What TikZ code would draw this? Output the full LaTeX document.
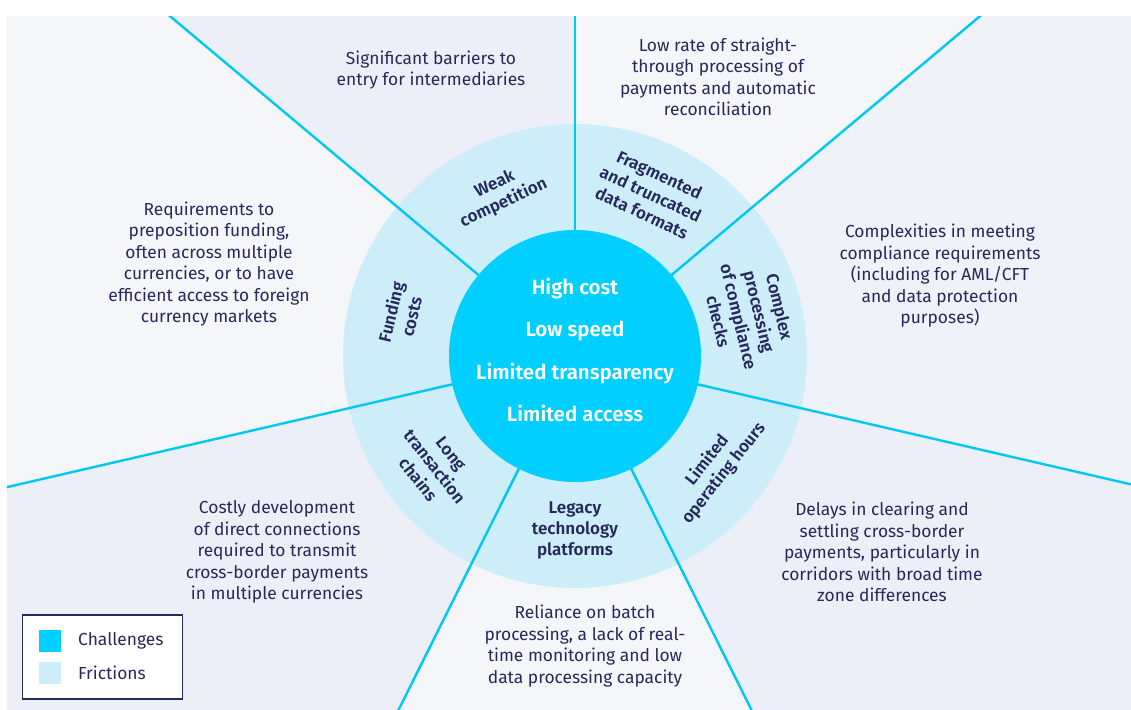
\documentclass[tikz,border=0pt]{standalone}
\usepackage{fontspec}
\setmainfont{Fira Sans}[BoldFont={Fira Sans SemiBold}]
\definecolor{navy}{HTML}{27295A}
\definecolor{corecol}{HTML}{00CFFF}
\definecolor{spokecol}{HTML}{00C8F2}
\definecolor{ringcol}{HTML}{CDEDF9}
\definecolor{secdark}{HTML}{ECEFF7}
\definecolor{seclight}{HTML}{F5F6FA}
\definecolor{secmid}{HTML}{EFF2F8}
\pgfdeclarelayer{bg}
\pgfsetlayers{bg,main}
\tikzset{
  desc/.style={text=navy, align=center, inner sep=0pt, font=\fontsize{17.4}{21.5}\selectfont},
  ringlbl/.style={text=navy, align=center, inner sep=0pt, font=\bfseries\fontsize{17}{21}\selectfont},
  corelbl/.style={text=white, align=center, inner sep=0pt, font=\bfseries\fontsize{20.5}{42.5}\selectfont},
  spoke/.style={draw=spokecol, line width=2.4pt},
  legsq/.style={minimum size=22pt, inner sep=0pt, anchor=north west},
  legtxt/.style={text=navy, anchor=west, inner sep=0pt, font=\fontsize{17.4}{20}\selectfont},
}
\begin{document}
\begin{tikzpicture}[x=1pt,y=1pt]
\useasboundingbox (-575,-353) rectangle (556,356);
% core circle and ring as nodes
\node[circle, fill=corecol, minimum size=252pt, inner sep=0pt] (core) at (0,0) {};
\begin{pgfonlayer}{bg}
  \fill[white] (-575,-353) rectangle (556,356);
  \begin{scope}
    \clip (-568,-353) rectangle (556,339);
    \fill[secdark]  (0,0) -- (90:1200)  arc[start angle=90,  end angle=140, radius=1200] -- cycle;
    \fill[seclight] (0,0) -- (140:1200) arc[start angle=140, end angle=193, radius=1200] -- cycle;
    \fill[secdark]  (0,0) -- (193:1200) arc[start angle=193, end angle=243.5, radius=1200] -- cycle;
    \fill[seclight] (0,0) -- (243.5:1200) arc[start angle=243.5, end angle=296.5, radius=1200] -- cycle;
    \fill[secdark]  (0,0) -- (296.5:1200) arc[start angle=296.5, end angle=347, radius=1200] -- cycle;
    \fill[secmid]   (0,0) -- (347:1200) arc[start angle=347, end angle=400, radius=1200] -- cycle;
    \fill[seclight] (0,0) -- (40:1200)  arc[start angle=40,  end angle=90,  radius=1200] -- cycle;
    \node[circle, fill=ringcol, minimum size=464pt, inner sep=0pt] (ring) at (0,0) {};
    \foreach \a [count=\i] in {90,40,-13,-63.5,-116.5,-167,140}{
      \coordinate (far\i) at (\a:1200);
      \coordinate (near\i) at (\a:125);
      \draw[spoke] (near\i) -- (far\i);
    }
  \end{scope}
\end{pgfonlayer}
% core text
\node[corelbl] (coretext) at (0,6) {High cost\\Low speed\\Limited transparency\\Limited access};
% ring labels
\node[ringlbl, rotate=25]    (weak)  at (115:179)    {Weak\\competition};
\node[ringlbl, rotate=-25]   (frag)  at (65:179)     {Fragmented\\and truncated\\data formats};
\node[ringlbl, rotate=-76.5] (compl) at (13.5:179)   {Complex\\processing\\of compliance\\checks};
\node[ringlbl, rotate=51.75] (hours) at (-38.25:179) {Limited\\operating hours};
\node[ringlbl]               (legacy) at (0,-174)    {Legacy\\technology\\platforms};
\node[ringlbl, rotate=-51.75] (chains) at (-141.75:179) {Long\\transaction\\chains};
\node[ringlbl, rotate=76.5]  (fund)  at (166.5:179)  {Funding\\costs};
% descriptions
\node[desc] (d1) at (-144,286) {Significant barriers to\\entry for intermediaries};
\node[desc] (d2) at (143,279)  {Low rate of straight-\\through processing of\\payments and automatic\\reconciliation};
\node[desc] (d3) at (365,80)   {Complexities in meeting\\compliance requirements\\(including for AML/CFT\\and data protection\\purposes)};
\node[desc] (d4) at (307,-196) {Delays in clearing and\\settling cross-border\\payments, particularly in\\corridors with broad time\\zone differences};
\node[desc] (d5) at (10,-290)  {Reliance on batch\\processing, a lack of real-\\time monitoring and low\\data processing capacity};
\node[desc] (d6) at (-298,-196) {Costly development\\of direct connections\\required to transmit\\cross-border payments\\in multiple currencies};
\node[desc] (d7) at (-366,92)  {Requirements to\\preposition funding,\\often across multiple\\currencies, or to have\\efficient access to foreign\\currency markets};
% legend
\draw[navy, line width=1.4pt, fill=white] (-552.3,-259) rectangle (-392.3,-343);
\node[legsq, fill=corecol] (lc) at (-536,-274) {};
\node[legsq, fill=ringcol] (lf) at (-536,-306) {};
\node[legtxt] (lct) at (-497,-285) {Challenges};
\node[legtxt] (lft) at (-497,-317) {Frictions};
\end{tikzpicture}
\end{document}
